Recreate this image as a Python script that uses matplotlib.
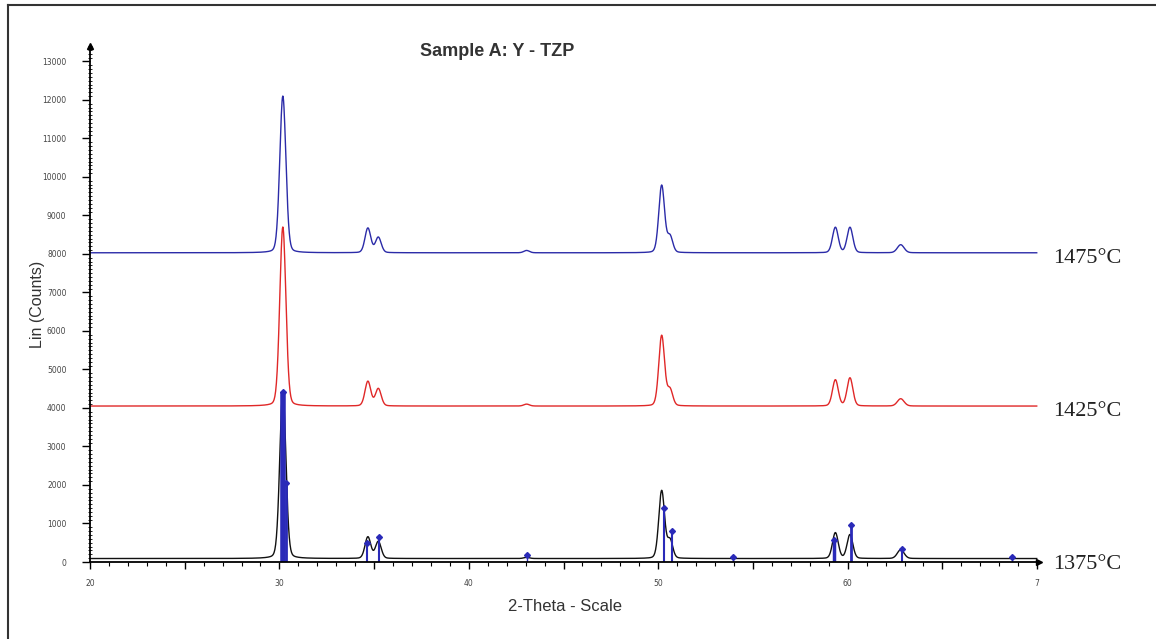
import numpy as np
import matplotlib.pyplot as plt
from matplotlib.lines import Line2D
from matplotlib.ticker import FixedLocator, FixedFormatter, MultipleLocator
from matplotlib.transforms import blended_transform_factory

# peak lists (2-theta, height above baseline, FWHM)
peak_pos = [30.18, 34.67, 35.22, 43.05, 50.18, 50.62, 59.35, 60.12, 62.80]
peak_fwhm = [0.38, 0.36, 0.36, 0.35, 0.36, 0.34, 0.36, 0.36, 0.42]

h_1475 = [4070, 640, 400, 60, 1750, 420, 660, 660, 210]
h_1425 = [4650, 640, 450, 50, 1830, 420, 680, 730, 190]
h_1375 = [4360, 560, 440, 30, 1760, 470, 670, 620, 230]

base_1475 = 8030
base_1425 = 4050
base_1375 = 90

# reference pattern sticks
stick_pos = [30.18, 30.36, 34.62, 35.28, 43.06, 50.30, 50.70, 53.94, 59.30, 60.20, 62.85, 68.68]
stick_h = [4420, 2050, 490, 650, 180, 1400, 800, 130, 570, 960, 340, 130]
stick_lw = [4, 2, 1.5, 1.5, 1, 1.5, 1.5, 1, 2.5, 2, 1.5, 1]

labels = ["1475°C", "1425°C", "1375°C"]
label_y = [8030, 4050, 90]

x = np.arange(20.0, 70.0, 0.02)


def pattern(base, heights):
    y = np.full_like(x, float(base))
    for p, h, w in zip(peak_pos, heights, peak_fwhm):
        g = np.exp(-4 * np.log(2) * ((x - p) / w) ** 2)
        l = 1 / (1 + 4 * ((x - p) / w) ** 2)
        y += h * (0.85 * g + 0.15 * l)
    return y


fig = plt.figure(figsize=(11.56, 6.39), dpi=100)
W, H = 1156, 639
ax = fig.add_axes([90 / W, (H - 562) / H, 949 / W, 516 / H])

ax.plot(x, pattern(base_1475, h_1475), color="#2b2ba8", lw=1.0)
ax.plot(x, pattern(base_1425, h_1425), color="#e02828", lw=1.0)
ax.plot(x, pattern(base_1375, h_1375), color="#111111", lw=1.0)

for p, h, lw in zip(stick_pos, stick_h, stick_lw):
    ax.vlines(p, 0, h, color="#2a2ab8", lw=lw)
ax.plot(stick_pos, stick_h, "D", color="#2a2ab8", ms=3, ls="none")

ax.set_xlim(20, 70.1)
ax.set_ylim(0, 13400)

for s in ["top", "right"]:
    ax.spines[s].set_visible(False)
for s in ["left", "bottom"]:
    ax.spines[s].set_linewidth(1.3)
ax.plot(1, 0, ">k", ms=5, transform=ax.transAxes, clip_on=False)
ax.plot(0, 1, "^k", ms=4, transform=ax.transAxes, clip_on=False)

ax.yaxis.set_major_locator(MultipleLocator(1000))
ax.yaxis.set_minor_locator(MultipleLocator(100))
ax.xaxis.set_major_locator(FixedLocator([20, 25, 30, 35, 40, 45, 50, 55, 60, 65, 70]))
ax.xaxis.set_major_formatter(FixedFormatter(["20", "", "30", "", "40", "", "50", "", "60", "", "7"]))
ax.xaxis.set_minor_locator(MultipleLocator(1))

ax.tick_params(axis="y", which="major", direction="out", length=6, width=1, pad=11,
               labelsize=5.5, labelcolor="#444444")
ax.tick_params(axis="y", which="minor", direction="inout", length=3, width=0.6)
ax.tick_params(axis="x", which="major", direction="out", length=5, width=1, pad=7,
               labelsize=5.5, labelcolor="#444444")
ax.tick_params(axis="x", which="minor", direction="out", length=3, width=0.8)

ax.set_ylabel("Lin (Counts)", fontsize=11.5, color="#333333", family="Liberation Sans", labelpad=-2)
ax.set_xlabel("2-Theta - Scale", fontsize=12, color="#333333", family="Liberation Sans", labelpad=8)

fig.text(497 / W, 1 - 52 / H, "Sample A: Y - TZP", fontsize=13, fontweight="bold",
         color="#333333", family="Liberation Sans", ha="center", va="center")

trans = blended_transform_factory(fig.transFigure, ax.transData)
for lab, yv in zip(labels, label_y):
    ax.annotate(lab, xy=(1053 / W, yv), xycoords=trans, xytext=(0, -4),
                textcoords="offset points", fontsize=16, annotation_clip=False,
                family="Liberation Serif", va="center", ha="left", color="#222222")

# outer frame
fig.add_artist(Line2D([8 / W, 8 / W], [0, 1 - 5 / H], color="#333333", lw=1.5))
fig.add_artist(Line2D([8 / W, 1], [1 - 5 / H, 1 - 5 / H], color="#333333", lw=1.5))

fig.savefig("out.png", dpi=100)
